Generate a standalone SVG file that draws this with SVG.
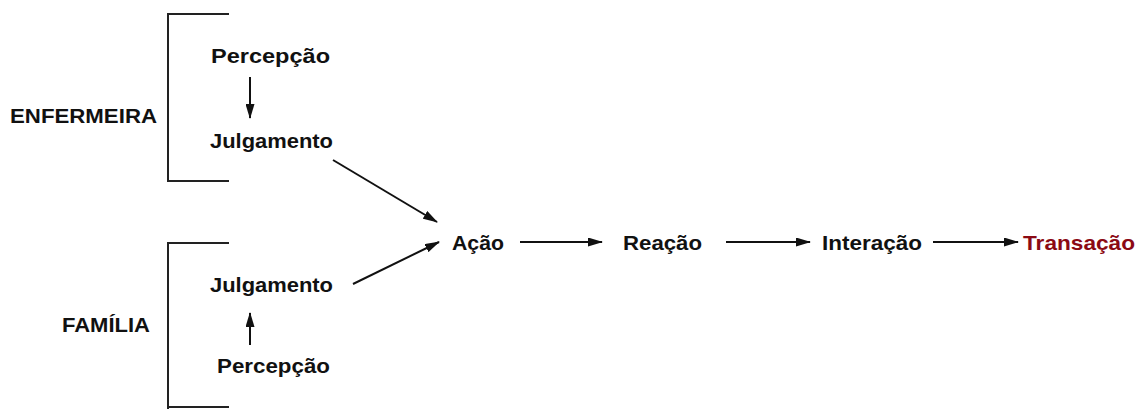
<svg xmlns="http://www.w3.org/2000/svg" width="1142" height="409" viewBox="0 0 1142 409">
<defs>
<style>
text{font-family:"Liberation Sans",Arial,sans-serif;font-weight:bold;font-size:21px;fill:#111}
.red{fill:#8b0a14}
.br{fill:none;stroke:#222;stroke-width:2}
.c{stroke:#111;stroke-width:2;fill:none;marker-end:url(#ah)}
</style>
<marker id="ah" viewBox="0 0 15 9" refX="14" refY="4.5" markerWidth="15" markerHeight="9" markerUnits="userSpaceOnUse" orient="auto">
<path d="M0,0 L15,4.5 L0,9 Z" fill="#111"/>
</marker>
</defs>
<rect width="1142" height="409" fill="#fff"/>
<g id="enfermeira">
<path class="br" d="M229,14 H168 V181 H229"/>
<text x="10" y="123" textLength="147" lengthAdjust="spacingAndGlyphs">ENFERMEIRA</text>
</g>
<g id="percepcao1"><text x="211" y="63" textLength="119" lengthAdjust="spacingAndGlyphs">Percepção</text></g>
<g id="julgamento1"><text x="210" y="148" textLength="123" lengthAdjust="spacingAndGlyphs">Julgamento</text></g>
<g id="familia">
<path class="br" d="M229,243 H168 V409"/>
<path class="br" d="M168,407 H229"/>
<text x="62" y="332" textLength="88" lengthAdjust="spacingAndGlyphs">FAMÍLIA</text>
</g>
<g id="julgamento2"><text x="210" y="292" textLength="123" lengthAdjust="spacingAndGlyphs">Julgamento</text></g>
<g id="percepcao2"><text x="217" y="373" textLength="113" lengthAdjust="spacingAndGlyphs">Percepção</text></g>
<g id="acao"><text x="452" y="250" textLength="52" lengthAdjust="spacingAndGlyphs">Ação</text></g>
<g id="reacao"><text x="623" y="250" textLength="79" lengthAdjust="spacingAndGlyphs">Reação</text></g>
<g id="interacao"><text x="822" y="250" textLength="100" lengthAdjust="spacingAndGlyphs">Interação</text></g>
<g id="transacao"><text class="red" x="1023" y="250" textLength="112" lengthAdjust="spacingAndGlyphs">Transação</text></g>
<g id="connectors">
<line class="c" x1="250" y1="77" x2="250" y2="118"/>
<line class="c" x1="250" y1="345" x2="250" y2="313"/>
<line class="c" x1="333" y1="160" x2="437" y2="222"/>
<line class="c" x1="353" y1="284" x2="439" y2="242"/>
<line class="c" x1="520" y1="242" x2="602" y2="242"/>
<line class="c" x1="726" y1="242" x2="810" y2="242"/>
<line class="c" x1="933" y1="242" x2="1018" y2="242"/>
</g>
</svg>
